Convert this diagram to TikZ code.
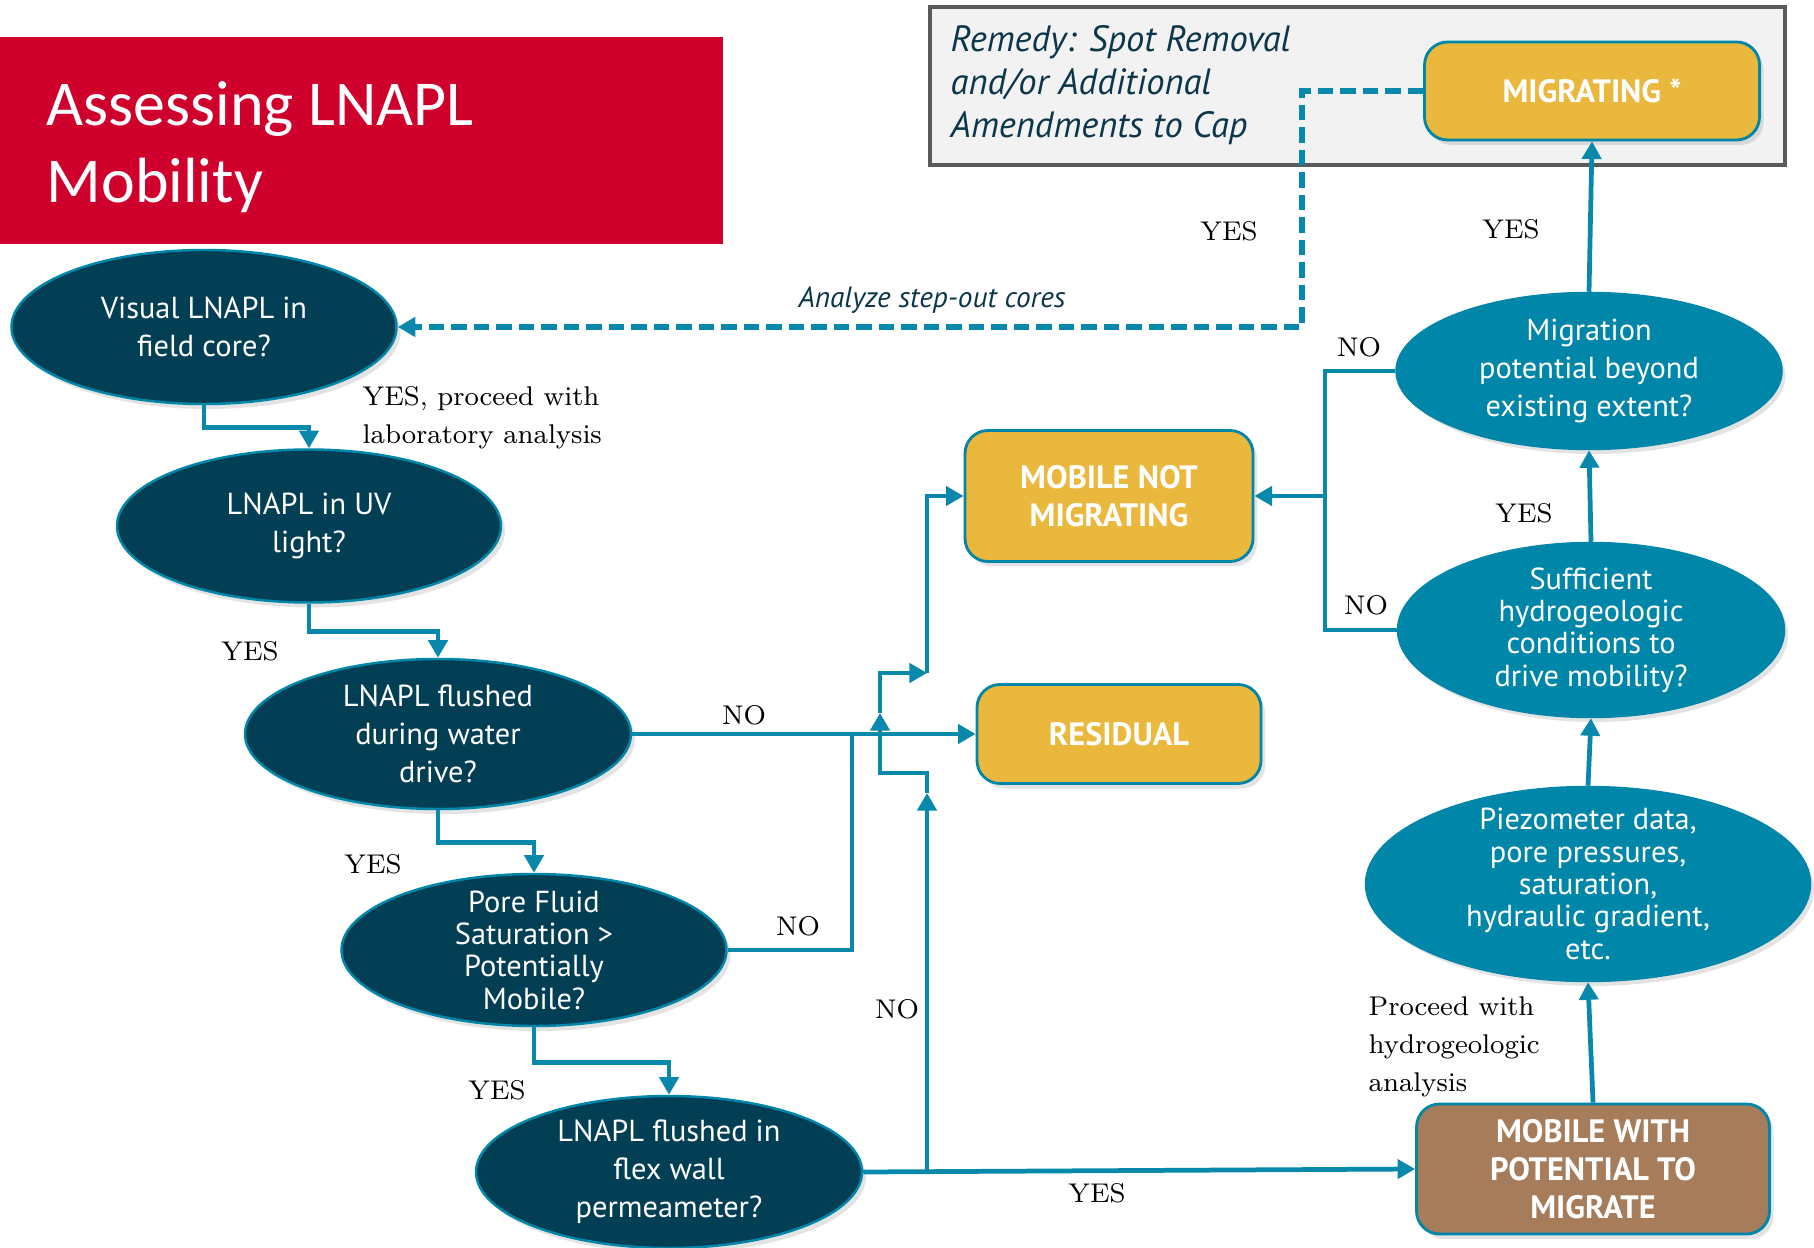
\documentclass[tikz,border=0pt]{standalone}
\usepackage{fontspec}
\newfontfamily\capfont{Carlito}
\newfontfamily\boxfont{PT Sans}
\usetikzlibrary{shapes.geometric,arrows.meta,shadows}

\definecolor{titlered}{RGB}{208,0,45}
\definecolor{deepteal}{RGB}{2,62,84}
\definecolor{midteal}{RGB}{0,134,168}
\definecolor{wireteal}{RGB}{8,136,170}
\definecolor{gold}{RGB}{234,184,60}
\definecolor{clay}{RGB}{166,124,90}
\definecolor{panelgray}{RGB}{242,242,242}
\definecolor{panelrim}{RGB}{90,90,90}
\definecolor{inkteal}{RGB}{12,55,75}

\tikzset{
  softshadow/.style={drop shadow={opacity=0.22,shadow xshift=0.04cm,shadow yshift=-0.05cm}},
  query/.style={ellipse,draw=midteal,line width=0.7pt,inner xsep=0pt,inner ysep=-8pt,
    text=white,align=center,font=\boxfont\fontsize{8.65}{10.8}\selectfont,softshadow},
  darkq/.style={query,fill=deepteal},
  lightq/.style={query,fill=midteal},
  tight/.style={font=\boxfont\fontsize{8.65}{9.2}\selectfont},
  outcome/.style={rectangle,rounded corners=0.23cm,draw=midteal,line width=0.8pt,fill=gold,
    text=white,align=center,font=\boxfont\bfseries\fontsize{9.2}{10.8}\selectfont,softshadow},
  link/.style={draw=wireteal,line width=1.35pt},
  linkarrow/.style={link,-{Triangle[length=5pt,width=5.4pt]}},
  dashlink/.style={linkarrow,line width=1.5pt,dash pattern=on 4.4pt off 2pt},
  answer/.style={font=\fontsize{7.7}{10.8}\selectfont,text=black,inner sep=0pt,align=left},
}

\begin{document}
\begin{tikzpicture}
\useasboundingbox (0,0) rectangle (18.14,12.47);

% heading and remedy panel
\fill[titlered] (0,10.03) rectangle (7.23,12.10);
\node[anchor=west,text=white,align=left,inner sep=0pt,font=\capfont\fontsize{18.2}{22}\selectfont] (head) at (0.46,11.0) {Assessing LNAPL\\Mobility};
\draw[panelrim,line width=1.4pt,fill=panelgray] (9.30,10.82) rectangle (17.85,12.40);
\node[anchor=west,text=inkteal,align=left,inner sep=0pt,font=\boxfont\itshape\fontsize{10.4}{12.2}\selectfont] (remedy) at (9.50,11.62) {Remedy: Spot Removal\\and/or Additional\\Amendments to Cap};
\node[outcome,minimum width=3.35cm,minimum height=0.98cm] (mig) at (15.92,11.56) {MIGRATING *};

% left column of questions
\node[darkq,minimum width=3.85cm,minimum height=1.54cm] (vis) at (2.04,9.20) {Visual LNAPL in\\field core?};
\node[darkq,minimum width=3.84cm,minimum height=1.53cm] (uv) at (3.09,7.21) {LNAPL in UV\\light?};
\node[darkq,minimum width=3.86cm,minimum height=1.50cm] (flw) at (4.38,5.13) {LNAPL flushed\\during water\\drive?};
\node[darkq,tight,minimum width=3.85cm,minimum height=1.52cm] (pore) at (5.34,2.97) {Pore Fluid\\Saturation >\\Potentially\\Mobile?};
\node[darkq,minimum width=3.86cm,minimum height=1.52cm] (flx) at (6.69,0.75) {LNAPL flushed in\\flex wall\\permeameter?};

% outcomes
\node[outcome,minimum width=2.88cm,minimum height=1.31cm] (mnm) at (11.09,7.51) {MOBILE NOT\\MIGRATING};
\node[outcome,minimum width=2.84cm,minimum height=0.99cm] (resid) at (11.19,5.13) {RESIDUAL};
\node[outcome,fill=clay,minimum width=3.53cm,minimum height=1.30cm] (mwp) at (15.93,0.78) {MOBILE WITH\\POTENTIAL TO\\MIGRATE};

% right column of questions
\node[lightq,minimum width=3.85cm,minimum height=1.56cm] (migr) at (15.89,8.76) {Migration\\potential beyond\\existing extent?};
\node[lightq,tight,minimum width=3.86cm,minimum height=1.74cm] (suff) at (15.91,6.17) {Sufficient\\hydrogeologic\\conditions to\\drive mobility?};
\node[lightq,tight,minimum width=4.44cm,minimum height=1.94cm] (piezo) at (15.88,3.63) {Piezometer data,\\pore pressures,\\saturation,\\hydraulic gradient,\\etc.};

% yes path down the left
\draw[linkarrow] (vis.south) -- ++(0,-0.22) -| (uv.north);
\draw[linkarrow] (uv.south) -- ++(0,-0.28) -| (flw.north);
\draw[linkarrow] (flw.south) -- ++(0,-0.32) -| (pore.north);
\draw[linkarrow] (pore.south) -- ++(0,-0.35) -| (flx.north);

% no branches
\coordinate (jp) at (8.52,5.13);
\draw[linkarrow] (flw.east) -- (resid.west);
\draw[link] (pore.east) -| (jp);
\draw[linkarrow] (flx.east) -- (mwp.west);
\coordinate (n0) at (9.27,0 |- flx.east);
\coordinate (n1) at (9.27,4.54);
\coordinate (n2) at (8.80,4.74);
\coordinate (n3) at (8.80,5.34);
\coordinate (n4) at (9.27,5.74);
\draw[linkarrow] (n0) -- (n1);
\draw[linkarrow] (n1) |- (n2) -- (n3);
\draw[linkarrow] (n3) |- (n4);
\draw[linkarrow] (n4) |- (mnm.west);

% right column
\coordinate (jm) at (13.25,7.51);
\draw[link] (suff.west) -| (jm);
\draw[link] (migr.west) -| (jm);
\draw[linkarrow] (jm) -- (mnm.east);
\draw[linkarrow] (mwp.north) -- (piezo.south);
\draw[linkarrow] (piezo.north) -- (suff.south);
\draw[linkarrow] (suff.north) -- (migr.south);
\draw[linkarrow] (migr.north) -- (mig.south);
\draw[dashlink] (mig.west) -| (13.02,0 |- vis.east) -- (vis.east);

% answers
\node[answer,anchor=west] (a1) at (3.62,8.29) {YES, proceed with\\laboratory analysis};
\node[answer] (a2) at (2.50,5.96) {YES};
\node[answer] (a3) at (3.73,3.83) {YES};
\node[answer] (a4) at (4.97,1.57) {YES};
\node[answer] (a5) at (7.44,5.32) {NO};
\node[answer] (a6) at (7.98,3.21) {NO};
\node[answer] (a7) at (8.97,2.38) {NO};
\node[answer] (a8) at (10.97,0.54) {YES};
\node[answer] (a9) at (12.29,10.16) {YES};
\node[answer] (a10) at (15.11,10.18) {YES};
\node[answer] (a11) at (13.59,9.00) {NO};
\node[answer] (a12) at (15.24,7.34) {YES};
\node[answer] (a13) at (13.66,6.42) {NO};
\node[answer,anchor=west] (a14) at (13.68,2.00) {Proceed with\\hydrogeologic\\analysis};
\node[inner sep=0pt,text=inkteal,font=\boxfont\itshape\fontsize{8.35}{10}\selectfont] (step) at (9.32,9.47) {Analyze step-out cores};
\end{tikzpicture}
\end{document}
